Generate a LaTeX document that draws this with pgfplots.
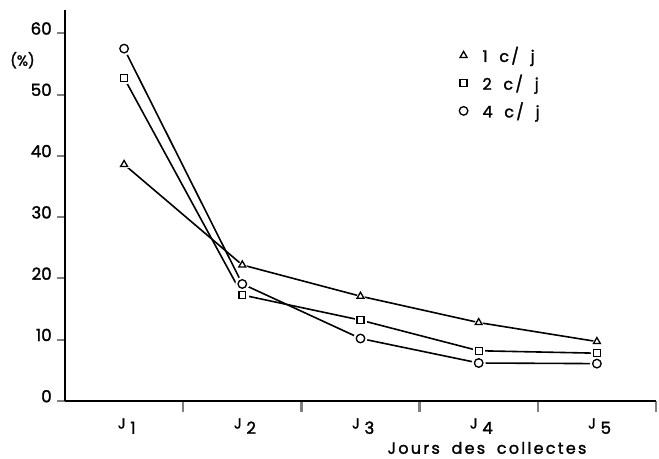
\documentclass[border=0pt]{standalone}
\usepackage{pgfplots}
\pgfplotsset{compat=1.18}
\usepackage{fontspec}
\setmainfont{Poppins}[FakeBold=1.6]
\newfontfamily\spaced{Poppins}[LetterSpace=14, FakeBold=1.6, WordSpace=1.8]

\pgfplotstableread{
x    a     b     c
0.5  38.6  52.7  57.5
1.5  22.2  17.3  19.1
2.5  17.1  13.2  10.2
3.5  12.8  8.2   6.2
4.5  9.7   7.8   6.1
}\collectes

\newcommand{\jour}[1]{{\fontsize{11}{12}\selectfont J}\hspace{3.5pt}\raisebox{-4pt}{\fontsize{12.5}{13}\selectfont #1}}

\begin{document}
\begin{tikzpicture}
\useasboundingbox (-48.75pt,-42.75pt) rectangle (445.5pt,300.75pt);
\begin{axis}[
  scale only axis,
  width=443.25pt, height=293.25pt,
  xmin=0, xmax=5, ymin=0, ymax=63.8,
  axis lines=left,
  axis line style={-, line width=1.8pt},
  tick align=outside,
  xtick={0.5,1.5,2.5,3.5,4.5},
  xticklabels={\jour{1},\jour{2},\jour{3},\jour{4},\jour{5}},
  minor xtick={1,2,3,4,5},
  xtick style={/pgfplots/major tick length=0pt, /pgfplots/minor tick length=8pt, line width=1.8pt},
  ytick={0,10,...,60},
  ytick style={/pgfplots/major tick length=6pt, line width=1.5pt},
  yticklabel style={anchor=base east, inner sep=0pt, xshift=-5.5pt, yshift=-1pt, font=\fontsize{12.5}{13}\selectfont},
  xticklabel style={anchor=north, inner sep=0pt, xshift=2pt, yshift=-8.5pt},
  /pgf/number format/assume math mode=true,
  xlabel={\spaced Jours des collectes},
  xlabel style={at={(rel axis cs:0.714,0)}, anchor=north, inner sep=0pt, yshift=-30.5pt, font=\fontsize{12}{13}\selectfont},
  legend style={draw=none, fill=none, at={(rel axis cs:0.66,0.92)}, anchor=north west,
    font=\fontsize{12}{13}\selectfont, row sep=4pt},
  legend cell align=left,
  clip=false,
]
% lines
\addplot [forget plot, black, line width=1.2pt] table [x=x, y=a] {\collectes};
\addplot [forget plot, black, line width=1.2pt] table [x=x, y=b] {\collectes};
\addplot [forget plot, black, line width=1.2pt] table [x=x, y=c] {\collectes};
% white halo round the marks
\addplot [forget plot, only marks, white, mark=triangle*, mark size=4.6pt] table [x=x, y=a] {\collectes};
\addplot [forget plot, only marks, white, mark=square*, mark size=4.2pt] table [x=x, y=b] {\collectes};
\addplot [forget plot, only marks, white, mark=*, mark size=5pt] table [x=x, y=c] {\collectes};
% marks
\addplot [only marks, black, mark=triangle, mark size=3pt, mark options={line width=1pt}] table [x=x, y=a] {\collectes};
\addlegendentry{\hspace{9pt}\spaced 1 c/ j}
\addplot [only marks, black, mark=square, mark size=2.6pt, mark options={line width=1pt}] table [x=x, y=b] {\collectes};
\addlegendentry{\hspace{9pt}\spaced 2 c/ j}
\addplot [only marks, black, mark=o, mark size=3.2pt, mark options={line width=1pt}] table [x=x, y=c] {\collectes};
\addlegendentry{\hspace{9pt}\spaced 4 c/ j}
\node [font=\fontsize{11}{12}\selectfont] at (axis cs:0,55.6) [xshift=-31.9pt] {(\%)};
\end{axis}
\end{tikzpicture}
\end{document}
